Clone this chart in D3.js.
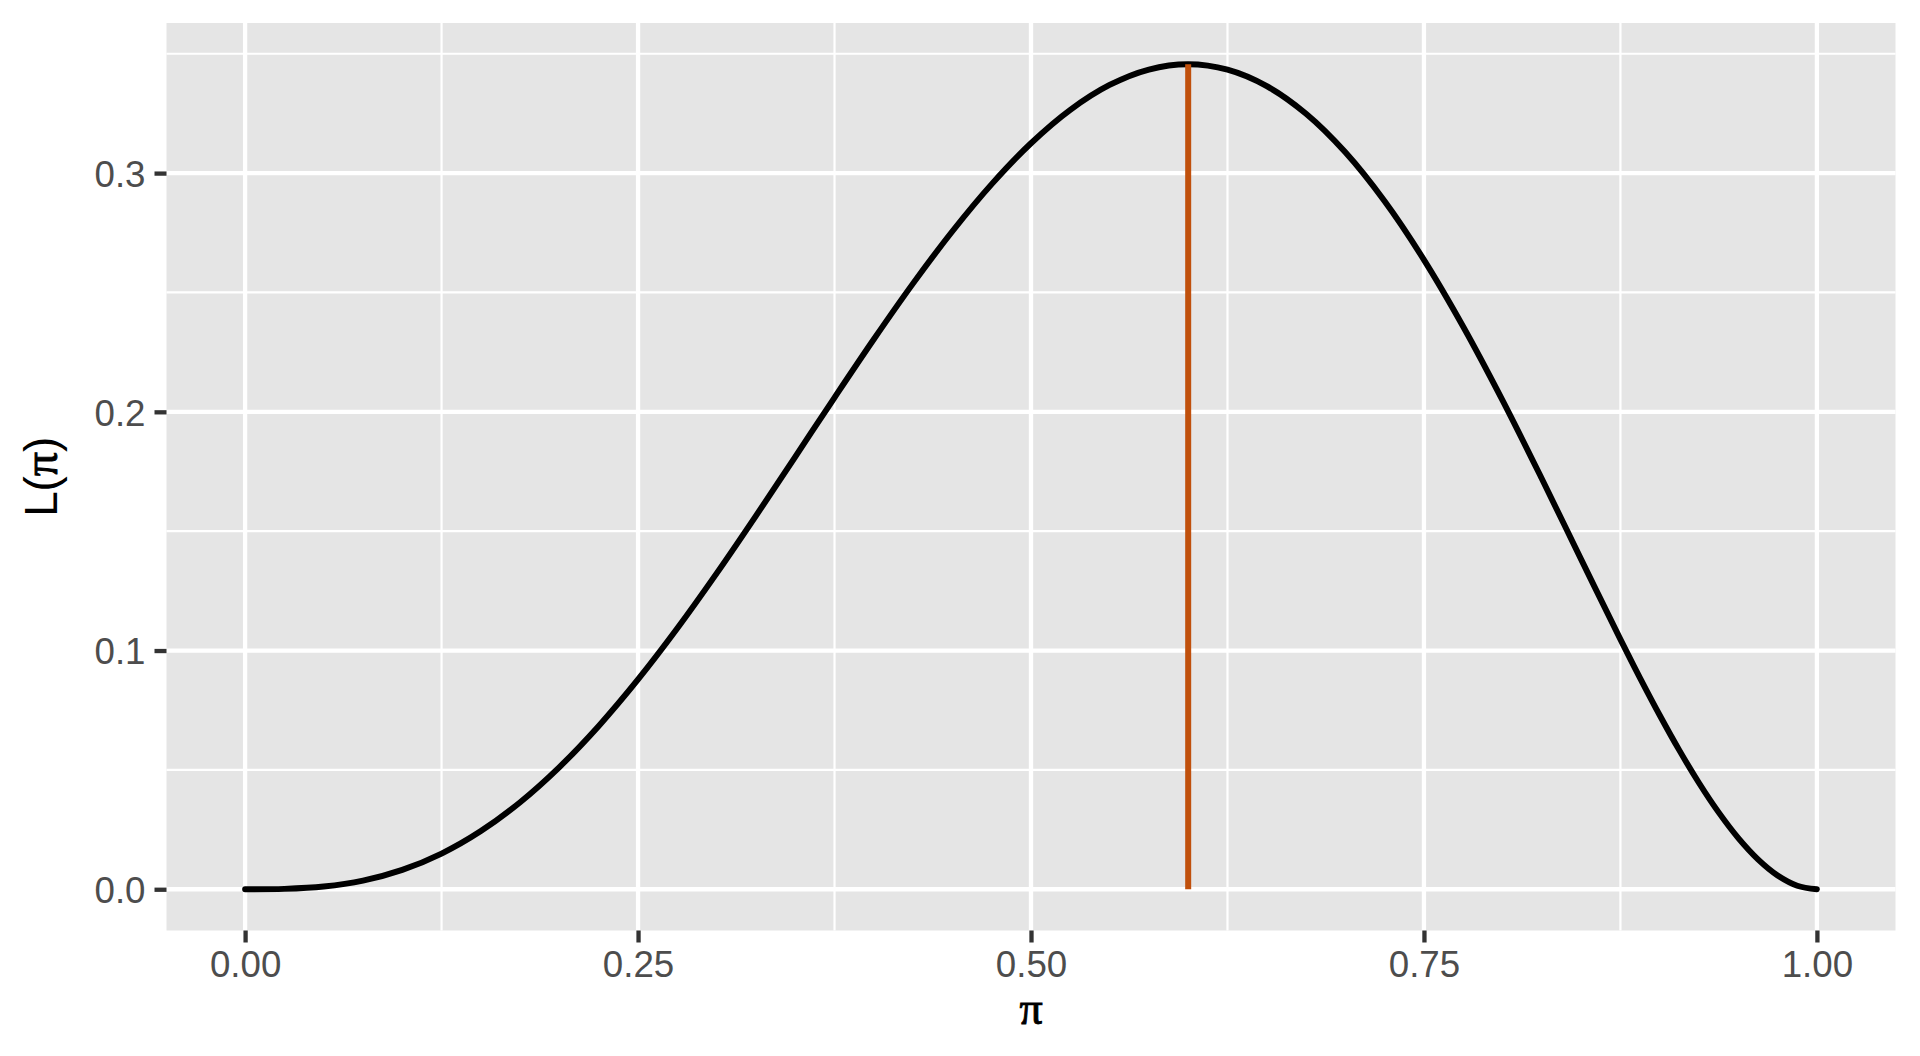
<!DOCTYPE html>
<html>
<head>
<meta charset="utf-8">
<script src="https://cdn.jsdelivr.net/npm/d3@7"></script>
<style>
html,body{margin:0;padding:0;background:#fff;}
svg{display:block;}
</style>
</head>
<body>
<svg id="chart" width="1920" height="1056"></svg>
<script>
// pi values
const piValues = [0,0.025,0.05,0.075,0.1,0.125,0.15,0.175,0.2,0.225,0.25,0.275,0.3,0.325,0.35,0.375,0.4,0.425,0.45,0.475,0.5,0.525,0.55,0.575,0.6,0.625,0.65,0.675,0.7,0.725,0.75,0.775,0.8,0.825,0.85,0.875,0.8875,0.9,0.9125,0.925,0.9375,0.95,0.9625,0.975,0.9875,1];
// likelihood values L(pi)
const likValues = [0,0.00015,0.00113,0.00361,0.0081,0.01495,0.02438,0.03648,0.0512,0.06842,0.08789,0.10931,0.1323,0.15641,0.18115,0.20599,0.2304,0.25381,0.27565,0.29539,0.3125,0.32649,0.33691,0.34339,0.3456,0.34332,0.33642,0.32485,0.3087,0.28819,0.26367,0.23565,0.2048,0.17196,0.13818,0.10468,0.08847,0.0729,0.05817,0.04452,0.03219,0.02143,0.01254,0.00579,0.0015,0];
// vertical marker at the maximum
const markerPi = [0.6];
const markerLik = [0.3456];
const xTicks = [0, 0.25, 0.5, 0.75, 1.0];
const xTickLabels = ["0.00","0.25","0.50","0.75","1.00"];
const xMinor = [0.125, 0.375, 0.625, 0.875];
const yTicks = [0, 0.1, 0.2, 0.3];
const yTickLabels = ["0.0","0.1","0.2","0.3"];
const yMinor = [0.05, 0.15, 0.25, 0.35];

const svg = d3.select("#chart");
const panel = {left:166.5, right:1895.5, top:23, bottom:930.5};

const yMax = d3.max(likValues);
const yPad = yMax*0.05;
const x = d3.scaleLinear().domain([-0.05, 1.05]).range([panel.left, panel.right]);
const y = d3.scaleLinear().domain([-yPad, yMax + yPad]).range([panel.bottom, panel.top]);

svg.append("rect").attr("x",panel.left).attr("y",panel.top)
  .attr("width",panel.right-panel.left).attr("height",panel.bottom-panel.top)
  .attr("fill","#E5E5E5");

const g = svg.append("g");
g.selectAll(".xminor").data(xMinor).join("line")
  .attr("x1",d=>x(d)).attr("x2",d=>x(d)).attr("y1",panel.top).attr("y2",panel.bottom)
  .attr("stroke","#fff").attr("stroke-width",2.2);
g.selectAll(".yminor").data(yMinor).join("line")
  .attr("y1",d=>y(d)).attr("y2",d=>y(d)).attr("x1",panel.left).attr("x2",panel.right)
  .attr("stroke","#fff").attr("stroke-width",2.2);
g.selectAll(".xmajor").data(xTicks).join("line")
  .attr("x1",d=>x(d)).attr("x2",d=>x(d)).attr("y1",panel.top).attr("y2",panel.bottom)
  .attr("stroke","#fff").attr("stroke-width",4.3);
g.selectAll(".ymajor").data(yTicks).join("line")
  .attr("y1",d=>y(d)).attr("y2",d=>y(d)).attr("x1",panel.left).attr("x2",panel.right)
  .attr("stroke","#fff").attr("stroke-width",4.3);

const xAxis = d3.axisBottom(x).tickValues(xTicks).tickFormat((d,i)=>xTickLabels[i]).tickSize(12).tickPadding(8);
const yAxis = d3.axisLeft(y).tickValues(yTicks).tickFormat((d,i)=>yTickLabels[i]).tickSize(12).tickPadding(9);

const gx = svg.append("g").attr("transform",`translate(0,${panel.bottom})`).call(xAxis);
const gy = svg.append("g").attr("transform",`translate(${panel.left},0)`).call(yAxis);
[gx,gy].forEach(a=>{
  a.select(".domain").remove();
  a.selectAll(".tick line").attr("stroke","#333333").attr("stroke-width",4.3);
  a.selectAll(".tick text").attr("fill","#4D4D4D")
    .style("font-family","'Liberation Sans', Arial, sans-serif").style("font-size","36.7px");
});
gy.selectAll(".tick text").attr("dy","0.36em");

const line = d3.line().x((d,i)=>x(piValues[i])).y(d=>y(d)).curve(d3.curveCatmullRom.alpha(0.5));
svg.append("path").datum(likValues).attr("d",line)
  .attr("fill","none").attr("stroke","#000").attr("stroke-width",5.9)
  .attr("stroke-linecap","round").attr("stroke-linejoin","round");

svg.selectAll(".marker").data(markerPi).join("line")
  .attr("x1",d=>x(d)).attr("x2",d=>x(d))
  .attr("y1",y(0)).attr("y2",(d,i)=>y(markerLik[i]))
  .attr("stroke","#C0500C").attr("stroke-width",6);

svg.append("text").attr("x",(panel.left+panel.right)/2).attr("y",1024)
  .attr("text-anchor","middle").attr("fill","#000").attr("stroke","#000").attr("stroke-width",0.9)
  .style("font-family","'Liberation Serif','DejaVu Serif',serif").style("font-size","46px")
  .text("π");

const yt = svg.append("text").attr("transform",`translate(57,${(panel.top+panel.bottom)/2}) rotate(-90)`)
  .attr("text-anchor","middle").attr("fill","#000")
  .style("font-size","45.8px");
yt.append("tspan").style("font-family","'Liberation Sans', Arial, sans-serif").text("L(");
yt.append("tspan").attr("stroke","#000").attr("stroke-width",0.9)
  .style("font-family","'Liberation Serif','DejaVu Serif',serif").style("font-size","48px").text("π");
yt.append("tspan").style("font-family","'Liberation Sans', Arial, sans-serif").text(")");
</script>
</body>
</html>
